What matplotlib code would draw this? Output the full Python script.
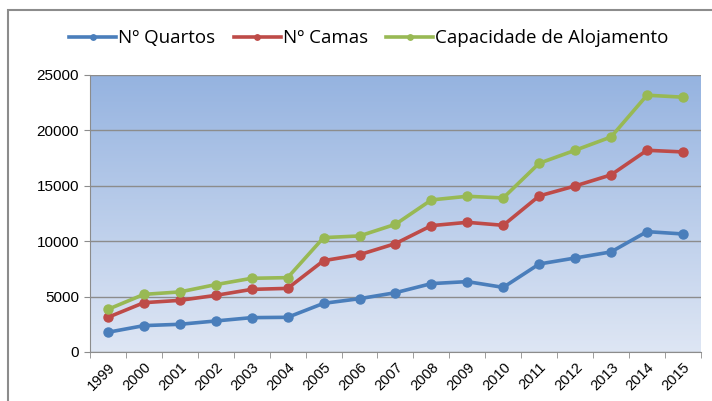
import matplotlib.pyplot as plt
import numpy as np
from matplotlib.patches import Rectangle

anos = ['1999', '2000', '2001', '2002', '2003', '2004', '2005', '2006', '2007',
        '2008', '2009', '2010', '2011', '2012', '2013', '2014', '2015']
quartos = [1780, 2380, 2500, 2800, 3100, 3130, 4390, 4810, 5350,
           6170, 6350, 5830, 7940, 8480, 9030, 10860, 10650]
camas = [3130, 4450, 4660, 5110, 5650, 5740, 8240, 8780, 9780,
         11400, 11700, 11430, 14080, 14980, 15980, 18200, 18050]
capacidade = [3850, 5200, 5420, 6080, 6650, 6710, 10320, 10470, 11520,
              13720, 14050, 13900, 17030, 18200, 19400, 23170, 22990]

plt.rcParams['font.family'] = ['Liberation Sans', 'DejaVu Sans']

fig = plt.figure(figsize=(7.12, 4.01), dpi=100)
ax = fig.add_axes([0.1264, 0.1222, 0.858, 0.691])

# outer frame of the chart area
fig.patches.append(Rectangle((8 / 712, -0.2), 1.2, 1.175, transform=fig.transFigure,
                             fill=False, edgecolor='#8c8c8c', lw=1.5))

# gradient background
grad = np.linspace(0, 1, 256).reshape(-1, 1)
top = np.array([0x95, 0xb3, 0xe0]) / 255
bot = np.array([0xde, 0xe6, 0xf4]) / 255
img = bot + (top - bot) * grad
ax.imshow(img[:, None, :].repeat(2, axis=1), extent=[0, 1, 0, 1], transform=ax.transAxes,
          aspect='auto', origin='lower', zorder=0)

x = np.arange(len(anos))
ax.plot(x, quartos, color='#4a7ebb', lw=2.6, marker='o', ms=6.5, label='Nº Quartos', zorder=3)
ax.plot(x, camas, color='#be4b48', lw=2.6, marker='o', ms=6.5, label='Nº Camas', zorder=3)
ax.plot(x, capacidade, color='#98b954', lw=2.6, marker='o', ms=6.5,
        label='Capacidade de Alojamento', zorder=3)

ax.set_xlim(-0.5, len(anos) - 0.5)
ax.set_ylim(0, 25000)
ax.set_yticks(np.arange(0, 25001, 5000))
ax.yaxis.grid(True, color='#8c8c8c', lw=1.0)
ax.set_axisbelow(False)
for gl in ax.get_ygridlines():
    gl.set_zorder(1)

ax.set_xticks(x)
ax.set_xticklabels(anos, rotation=45, ha='right', rotation_mode='anchor')
ax.set_xticks(np.arange(-0.5, len(anos), 1), minor=True)
ax.tick_params(axis='x', which='major', length=0, labelsize=10.5, pad=6)
ax.tick_params(axis='x', which='minor', length=4, color='#8c8c8c', direction='out')
ax.tick_params(axis='y', length=4, color='#8c8c8c', labelsize=11, pad=4)

for s in ['top', 'right']:
    ax.spines[s].set_visible(False)
ax.spines['left'].set_color('#8c8c8c')
ax.spines['bottom'].set_color('#8c8c8c')

fig.legend(loc='center', bbox_to_anchor=(0.518, 0.905), ncol=3, frameon=False,
           handlelength=2.5, columnspacing=1.0, handletextpad=0.1, markerscale=0.6,
           prop={'family': 'Open Sans', 'size': 13.5})

fig.savefig('out.png', dpi=100)
